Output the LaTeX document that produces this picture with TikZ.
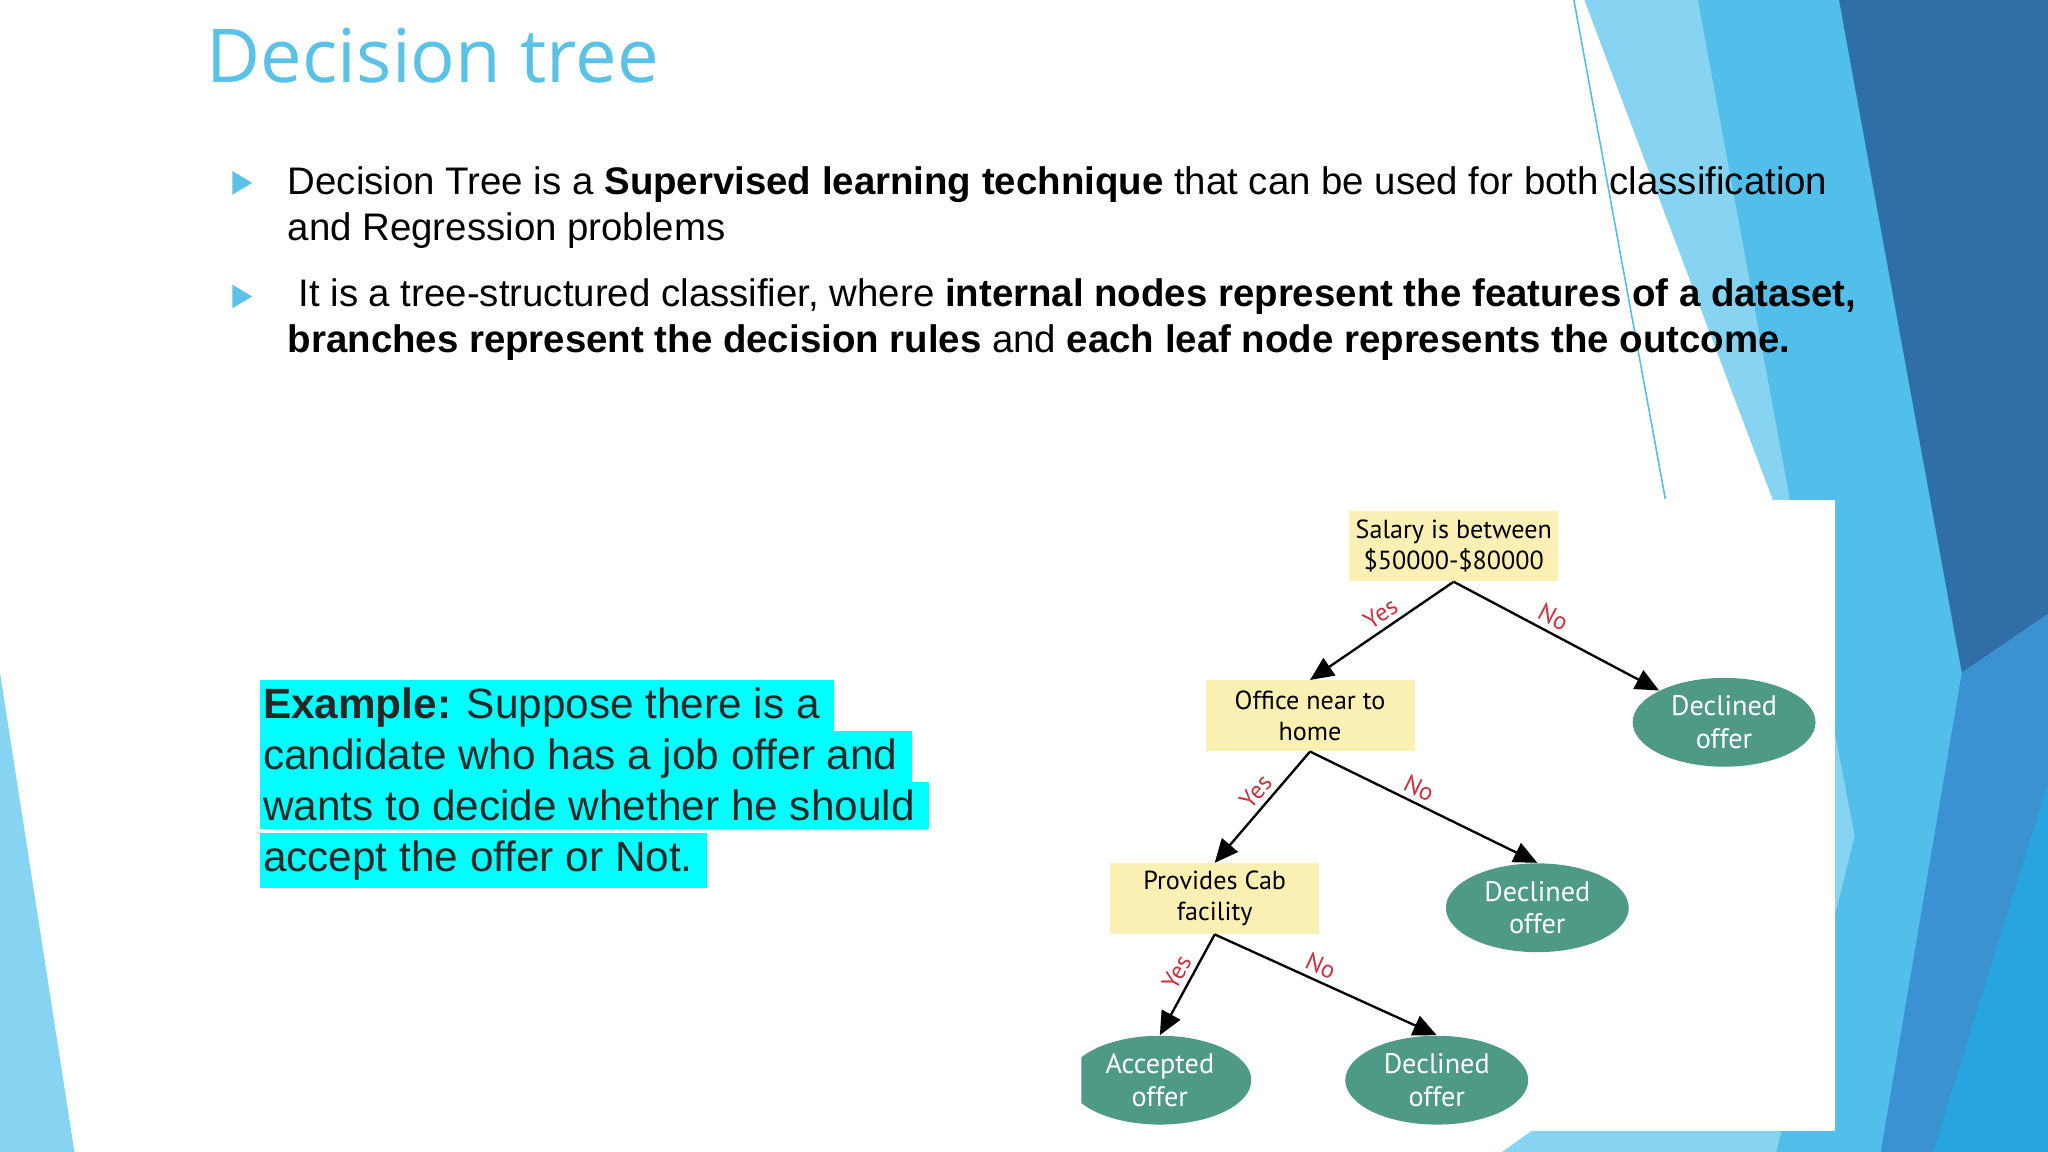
\documentclass[tikz,border=0pt]{standalone}
\usepackage{fontspec}
\setmainfont{Liberation Sans}
\newfontfamily\treefont{PT Sans}
\newfontfamily\titlefont{Open Sans}
\usetikzlibrary{shapes.geometric,arrows.meta}
\definecolor{titleblue}{HTML}{5BC2E7}
\definecolor{bA}{HTML}{86D4F1}
\definecolor{bB}{HTML}{52BFEA}
\definecolor{bC}{HTML}{2F6EA6}
\definecolor{bD}{HTML}{3B92D2}
\definecolor{bE}{HTML}{27A6DD}
\definecolor{boxy}{HTML}{FBF0B4}
\definecolor{leafg}{HTML}{4E9A87}
\definecolor{lblred}{HTML}{C8343F}
\definecolor{hl}{HTML}{00FFFF}
\begin{document}
\begin{tikzpicture}[x=0.5pt,y=-0.5pt,
  dec/.style={fill=boxy,font=\treefont\fontsize{10}{12}\selectfont,align=center,minimum width=80pt,minimum height=27pt,inner sep=1pt},
  leaf/.style={ellipse,fill=leafg,text=white,font=\treefont\fontsize{10.8}{12.5}\selectfont,align=center,minimum width=70pt,minimum height=34pt,inner sep=0pt},
  edge/.style={-{Triangle[length=9pt,width=8pt]},line width=0.9pt},
  lbl/.style={text=lblred,font=\treefont\fontsize{9.5}{10}\selectfont,inner sep=2pt},
  bul/.style={fill=titleblue},
  txt/.style={anchor=base west,font=\fontsize{14.7}{16}\selectfont,inner sep=0pt}]
\useasboundingbox (0,0) rectangle (1568,882);
\fill[white] (0,0) rectangle (1568,882);
% background shapes
\fill[bA] (1213,0) -- (1568,0) -- (1568,882) -- (1150,882) -- (1405,700) -- (1360,390) -- cycle;
\fill[bB] (1300,0) -- (1568,0) -- (1568,882) -- (1360,882) -- (1420,640) -- (1370,380) -- cycle;
\fill[bC] (1408,0) -- (1568,0) -- (1568,470) -- (1502,515) -- cycle;
\fill[bD] (1502,515) -- (1568,470) -- (1568,882) -- (1440,882) -- cycle;
\fill[bE] (1568,600) -- (1568,882) -- (1480,882) -- cycle;
\draw[bB,line width=0.6pt] (1205,0) -- (1275,382);
\fill[bA] (0,515) -- (57,882) -- (0,882) -- cycle;
% title
\node[anchor=base west,inner sep=0pt,text=titleblue,font=\titlefont\fontsize{28.4}{32}\selectfont] (title) at (158,63) {Decision tree};
% bullets
\fill[bul] (178,131) -- (193,140) -- (178,149) -- cycle;
\fill[bul] (178,218) -- (193,227) -- (178,236) -- cycle;
\node[txt] (b1a) at (220,149) {Decision Tree is a \textbf{Supervised learning technique} that can be used for both classification};
\node[txt] (b1b) at (220,184) {and Regression problems};
\node[txt] (b2a) at (220,235) {\ It is a tree-structured classifier, where \textbf{internal nodes represent the features of a dataset,}};
\node[txt] (b2b) at (220,270) {\textbf{branches represent the decision rules} and \textbf{each leaf node represents the outcome.}};
% example
\begin{scope}[every node/.style={anchor=base west,inner xsep=1pt,inner ysep=3pt,fill=hl,text=black!85,font=\fontsize{16.2}{18}\selectfont}]
\node (e1) at (199,550) {\textbf{Example:} Suppose there is a\ \ };
\node (e2) at (199,589) {candidate who has a job offer and\ \ };
\node (e3) at (199,628) {wants to decide whether he should\ \ };
\node (e4) at (199,667) {accept the offer or Not.\ \ };
\end{scope}
% tree panel
\fill[white] (828,383) rectangle (1405,866);
\begin{scope}
\clip (828,383) rectangle (1405,866);
\node[dec] (s) at (1113,418) {Salary is between\\\$50000-\$80000};
\node[dec] (o) at (1003,548) {Office near to\\home};
\node[dec] (p) at (930,688) {Provides Cab\\facility};
\node[leaf] (d1) at (1320,553) {Declined\\offer};
\node[leaf] (d2) at (1177,695) {Declined\\offer};
\node[leaf] (d3) at (1100,827) {Declined\\offer};
\node[leaf] (a) at (888,827) {Accepted\\offer};
\draw[edge] (s.south) -- (o.north) node[lbl,pos=0.45,above,sloped] {Yes};
\draw[edge] (s.south) -- (d1.north west) node[lbl,pos=0.45,above,sloped] {No};
\draw[edge] (o.south) -- (p.north) node[lbl,pos=0.45,above,sloped] {Yes};
\draw[edge] (o.south) -- (d2.north) node[lbl,pos=0.45,above,sloped] {No};
\draw[edge] (p.south) -- (a.north) node[lbl,pos=0.45,above,sloped] {Yes};
\draw[edge] (p.south) -- (d3.north) node[lbl,pos=0.45,above,sloped] {No};
\end{scope}
\end{tikzpicture}
\end{document}
